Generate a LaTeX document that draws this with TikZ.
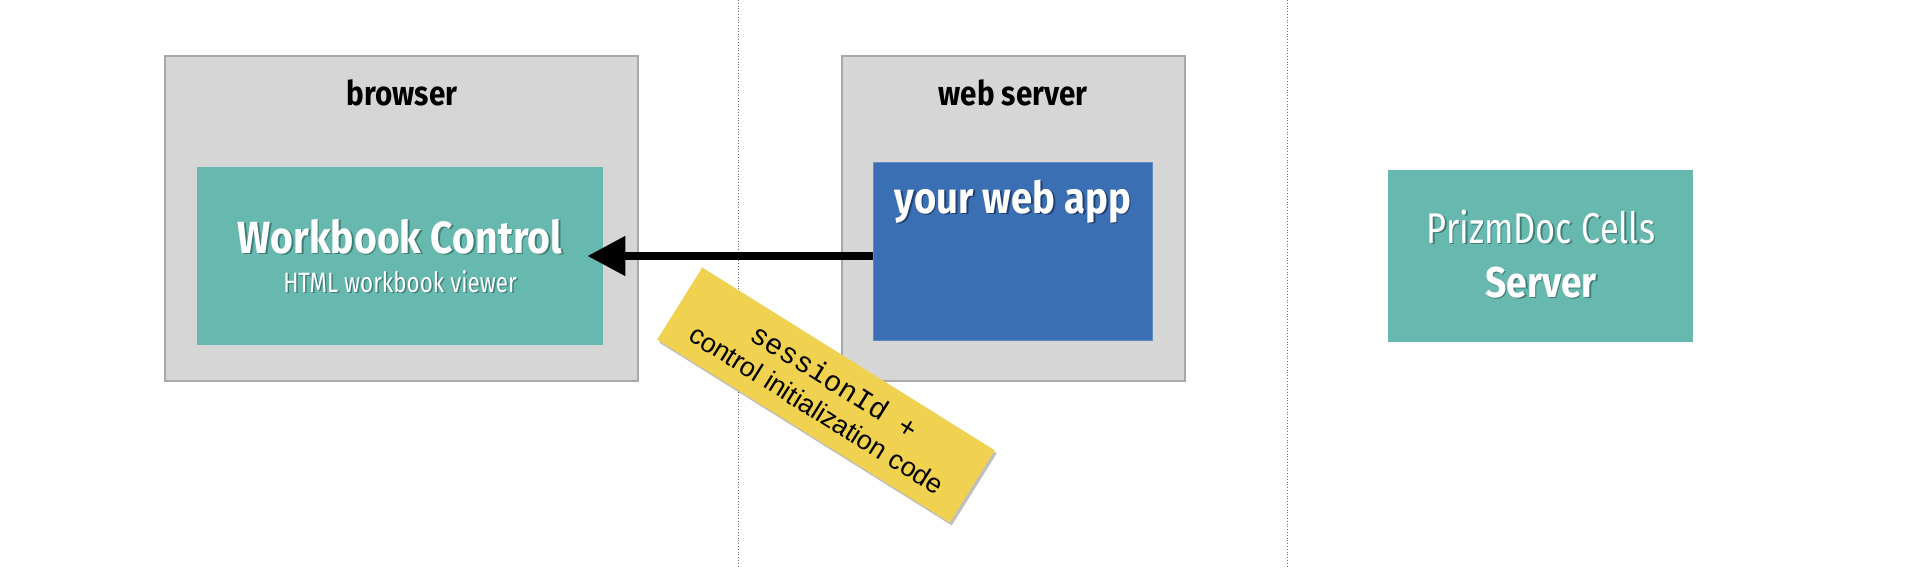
\documentclass[tikz,border=0pt]{standalone}
\usepackage{fontspec}
\setmainfont{Fira Sans}
\newfontfamily\cond[FakeStretch=0.8]{Fira Sans}
\newfontfamily\condb[FakeStretch=0.87]{Fira Sans}
\newfontfamily\mono{Liberation Mono}
\newfontfamily\helv{Liberation Sans}
\usetikzlibrary{arrows.meta,shadows}
\definecolor{boxgray}{HTML}{D6D6D6}
\definecolor{boxedge}{HTML}{A8A8A8}
\definecolor{myteal}{HTML}{67B8AE}
\definecolor{tealshadow}{HTML}{3F7E76}
\definecolor{appblue}{HTML}{3A6FB4}
\definecolor{blueshadow}{HTML}{1F3F6E}
\definecolor{noteyellow}{HTML}{F0D250}
\definecolor{sepgray}{HTML}{707070}
\newcommand\shtxt[2]{\makebox[0pt][l]{\hspace{1.5pt}\raisebox{-1.5pt}{\textcolor{#1}{#2}}}#2}
\tikzset{
  container/.style={draw=boxedge, line width=2pt, fill=boxgray, anchor=north west, inner sep=0pt},
  tealbox/.style={fill=myteal, anchor=north west, inner sep=0pt},
  bluebox/.style={fill=appblue, draw=appblue!80!white, line width=1pt, anchor=north west, inner sep=0pt},
  titletext/.style={anchor=base, inner sep=0pt, font=\condb\bfseries\fontsize{34}{40}\selectfont},
  whitetext/.style={anchor=base, inner sep=0pt, text=white},
  sepline/.style={draw=sepgray, line width=0.8pt, dotted},
  notebox/.style={fill=noteyellow, rotate=-32, minimum width=345pt, minimum height=85pt, align=center, inner sep=0pt,
     font=\fontsize{27}{33}\selectfont,
     drop shadow={shadow xshift=2pt, shadow yshift=-3pt, opacity=0.25, fill=black}},
  arr/.style={line width=8pt, -{Triangle[length=38pt,width=38pt]}}
}
\begin{document}
\begin{tikzpicture}[x=1pt,y=-1pt]
\useasboundingbox (0,0) rectangle (1920,568);
\fill[white] (0,0) rectangle (1920,568);
% separators
\draw[sepline] (738,0) -- (738,568);
\draw[sepline] (1287,0) -- (1287,568);
% browser
\node[container, minimum width=473pt, minimum height=325pt] (browser) at (164,55) {};
\node[titletext] (browsertitle) at (402,105) {browser};
\node[tealbox, minimum width=406pt, minimum height=178pt] (wc) at (197,167) {};
\node[whitetext, font=\condb\bfseries\fontsize{45}{50}\selectfont] (wctitle) at (400,253) {\shtxt{tealshadow}{Workbook Control}};
\node[whitetext, font=\cond\fontsize{28}{34}\selectfont] (wcsub) at (400,292) {\shtxt{tealshadow}{HTML workbook viewer}};
% web server
\node[container, minimum width=343pt, minimum height=325pt] (server) at (841,55) {};
\node[titletext] (servertitle) at (1013,105) {web server};
\node[bluebox, minimum width=279pt, minimum height=178pt] (app) at (873,162) {};
\node[whitetext, font=\condb\bfseries\fontsize{44}{48}\selectfont] (apptitle) at (1013,213) {\shtxt{blueshadow}{your web app}};
% PrizmDoc
\node[tealbox, minimum width=305pt, minimum height=172pt] (prizm) at (1388,170) {};
\node[whitetext, font=\cond\fontsize{43}{48}\selectfont] (prizm1) at (1541,243) {\shtxt{tealshadow}{PrizmDoc Cells}};
\node[whitetext, font=\condb\bfseries\fontsize{43}{48}\selectfont] (prizm2) at (1541,297) {\shtxt{tealshadow}{Server}};
% arrow
\coordinate (ay) at (0,256);
\draw[arr] (app.west |- ay) -- ([xshift=-16pt]wc.east |- ay);
% note
\node[notebox] (note) at (826,395) {{\mono\fontsize{29}{33}\selectfont sessionId +}\\{\helv control initialization code}};
\end{tikzpicture}
\end{document}
